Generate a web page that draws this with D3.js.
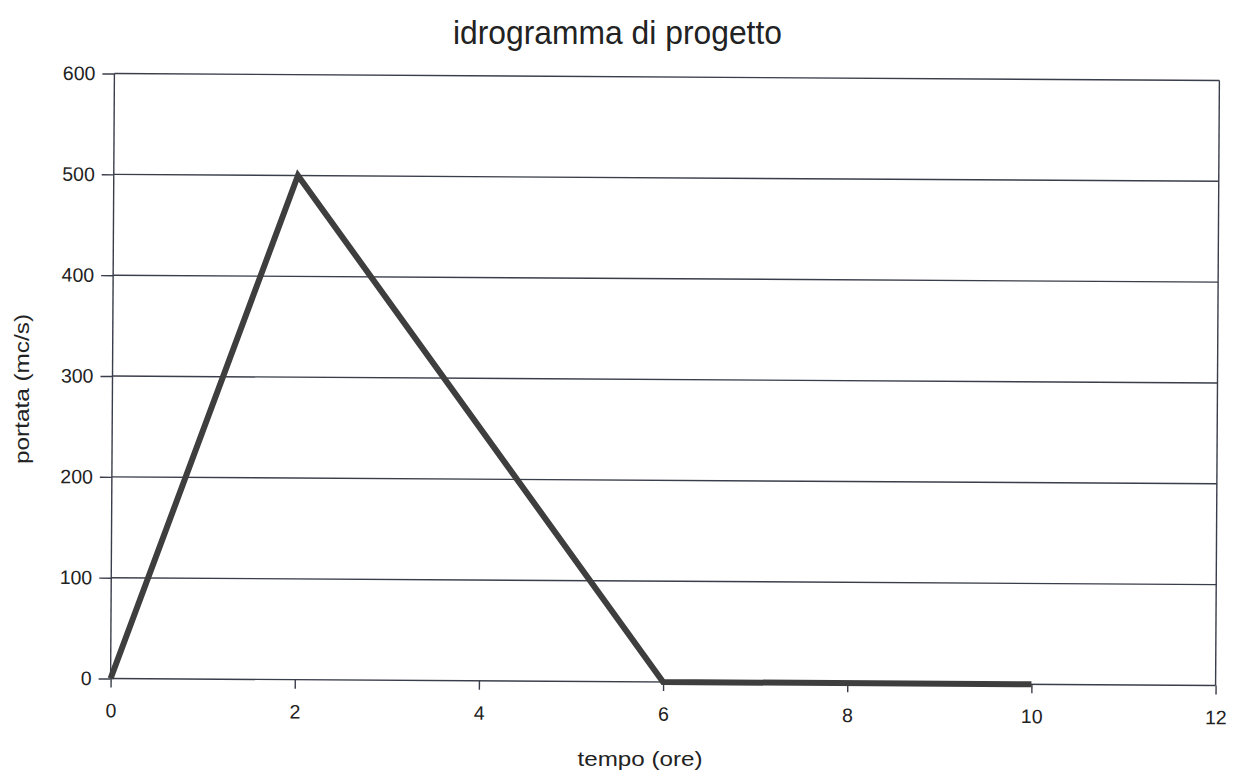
<!DOCTYPE html>
<html>
<head>
<meta charset="utf-8">
<script src="https://cdn.jsdelivr.net/npm/d3@7"></script>
<style>
  body { margin: 0; background: #fff; }
  text { font-family: "Liberation Sans", Arial, sans-serif; fill: #222; }
</style>
</head>
<body>
<div id="chart"></div>
<script>
var tempo = [0, 2, 6, 10];
var portata = [0, 500, 0, 0];
var xTicks = [0, 2, 4, 6, 8, 10, 12];
var yTicks = [0, 100, 200, 300, 400, 500, 600];

(function() {
  'use strict';

  var W = 1236, H = 772;
  var marginLeft = 112.5, marginTop = 77, width = 1105, height = 605;
  var ink = '#3a3d4a';

  var svg = d3.select('#chart').append('svg')
    .attr('width', W)
    .attr('height', H);

  // the scanned chart is tilted a little clockwise
  var root = svg.append('g')
    .attr('transform', 'rotate(0.36,' + (marginLeft + width / 2) + ',' + (marginTop + height / 2) + ')');

  var x = d3.scaleLinear().domain([0, 12]).range([0, width]);
  var y = d3.scaleLinear().domain([0, 600]).range([height, 0]);

  var g = root.append('g').attr('transform', 'translate(' + marginLeft + ',' + marginTop + ')');

  // horizontal gridlines
  g.append('g')
    .selectAll('line')
    .data(yTicks)
    .enter().append('line')
    .attr('x1', 0)
    .attr('x2', width)
    .attr('y1', function(d) { return y(d); })
    .attr('y2', function(d) { return y(d); })
    .attr('stroke', ink)
    .attr('stroke-width', 1.4);

  // left and right border of plot area
  g.selectAll('.border')
    .data([0, width])
    .enter().append('line')
    .attr('class', 'border')
    .attr('x1', function(d) { return d; })
    .attr('x2', function(d) { return d; })
    .attr('y1', 0)
    .attr('y2', height)
    .attr('stroke', ink)
    .attr('stroke-width', 1.4);

  var yAxis = d3.axisLeft(y).tickValues(yTicks).tickSize(12).tickPadding(7).tickFormat(d3.format('d'));
  var xAxis = d3.axisBottom(x).tickValues(xTicks).tickSize(9).tickPadding(16).tickFormat(d3.format('d'));

  g.append('g').call(yAxis);
  g.append('g').attr('transform', 'translate(0,' + height + ')').call(xAxis);

  g.selectAll('.domain').remove();
  g.selectAll('.tick line').attr('stroke', ink).attr('stroke-width', 1.4);
  g.selectAll('.tick text')
    .attr('fill', '#222')
    .style('font-family', '"Liberation Sans", Arial, sans-serif')
    .style('font-size', '19.5px');

  // hydrograph line
  var line = d3.line()
    .x(function(d, i) { return x(tempo[i]); })
    .y(function(d) { return y(d); });

  g.append('path')
    .datum(portata)
    .attr('fill', 'none')
    .attr('stroke', '#3e3e3e')
    .attr('stroke-width', 6)
    .attr('stroke-linejoin', 'miter')
    .attr('d', line);

  // title and axis labels
  svg.append('text')
    .attr('x', 617.5)
    .attr('y', 44)
    .attr('text-anchor', 'middle')
    .attr('textLength', 329)
    .attr('lengthAdjust', 'spacingAndGlyphs')
    .style('font-size', '33px')
    .text('idrogramma di progetto');

  svg.append('text')
    .attr('x', 640)
    .attr('y', 766)
    .attr('text-anchor', 'middle')
    .attr('textLength', 125)
    .attr('lengthAdjust', 'spacingAndGlyphs')
    .style('font-size', '20px')
    .text('tempo (ore)');

  svg.append('text')
    .attr('transform', 'translate(29,389) rotate(-90)')
    .attr('text-anchor', 'middle')
    .attr('textLength', 150)
    .attr('lengthAdjust', 'spacingAndGlyphs')
    .style('font-size', '20px')
    .text('portata (mc/s)');
}());
</script>
</body>
</html>
